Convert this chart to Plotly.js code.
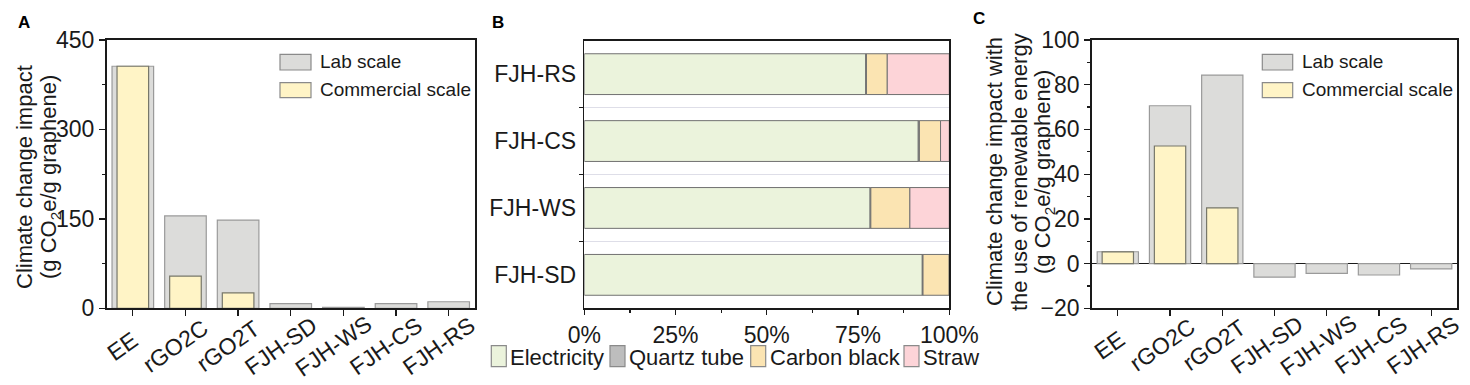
<!DOCTYPE html>
<html>
<head>
<meta charset="utf-8">
<script src="https://cdn.plot.ly/plotly-3.0.1.min.js"></script>
<style>html,body{margin:0;padding:0;background:#fff;}#chart{width:1470px;height:385px;}</style>
</head>
<body>
<div id="chart"></div>
<script>
// ---------- data ----------
const samples = ["EE", "rGO2C", "rGO2T", "FJH-SD", "FJH-WS", "FJH-CS", "FJH-RS"];
// Panel A: climate change impact (g CO2e / g graphene)
const labScaleA = [406, 155, 148, 7.8, 1.5, 7.8, 11];
const commercialScaleA = [406, 54, 26, null, null, null, null];
// Panel C: with renewable energy
const labScaleC = [5.3, 70.6, 84.3, -6.1, -4.4, -5.1, -2.4];
const commercialScaleC = [5.2, 52.6, 24.9, null, null, null, null];
// Panel B: contribution shares (%)
const fjhSamples = ["FJH-SD", "FJH-WS", "FJH-CS", "FJH-RS"];
const electricity = [92.6, 78.3, 91.5, 77.1];
const quartzTube = [0.2, 0.2, 0.3, 0.2];
const carbonBlack = [7.2, 10.7, 5.8, 5.7];
const straw = [0.0, 10.8, 2.4, 17.0];
const yTicksA = [0, 150, 300, 450];
const xTicksB = [0, 25, 50, 75, 100];
const xTickLabelsB = ["0%", "25%", "50%", "75%", "100%"];

// ---------- helpers ----------
const W = 1470, H = 385;
const px = x => x / W;
const py = y => 1 - y / H;
const FONT = "Liberation Sans, Arial, sans-serif";
const INK = "#1a1a1a";

const labColor = "#dcdcda", labLine = "#9a9a9a";
const comColor = "#fff4c6", comLine = "#77776a";
const compNames = ["Electricity", "Quartz tube", "Carbon black", "Straw"];
const compSeries = [electricity, quartzTube, carbonBlack, straw];
const compColors = ["#ebf3dc", "#bdbdbd", "#fbe4b2", "#fdd4d8"];

const traces = [];
traces.push({type: "bar", x: samples, y: labScaleA, width: 0.79, name: "Lab scale",
  marker: {color: labColor, line: {color: labLine, width: 1.2}}, xaxis: "x", yaxis: "y", showlegend: false});
traces.push({type: "bar", x: samples, y: commercialScaleA, width: 0.6, name: "Commercial scale",
  marker: {color: comColor, line: {color: comLine, width: 1.2}}, xaxis: "x", yaxis: "y", showlegend: false});

const yIdx = fjhSamples.map((c, i) => i);
let cum = fjhSamples.map(() => 0);
compSeries.forEach((s, k) => {
  traces.push({type: "bar", orientation: "h", y: yIdx, x: s, base: cum.slice(), width: 0.61,
    name: compNames[k], marker: {color: compColors[k], line: {color: "#707070", width: 1}},
    xaxis: "x2", yaxis: "y2", showlegend: false});
  cum = cum.map((v, i) => v + s[i]);
});

traces.push({type: "bar", x: samples, y: labScaleC, width: 0.79, name: "Lab scale",
  marker: {color: labColor, line: {color: labLine, width: 1.2}}, xaxis: "x3", yaxis: "y3", showlegend: false});
traces.push({type: "bar", x: samples, y: commercialScaleC, width: 0.6, name: "Commercial scale",
  marker: {color: comColor, line: {color: comLine, width: 1.2}}, xaxis: "x3", yaxis: "y3", showlegend: false});

const tickFont = {family: FONT, size: 23, color: INK};
const baseAxis = {showline: true, linecolor: INK, linewidth: 1.6, mirror: true, showgrid: false,
  zeroline: false, ticks: "outside", ticklen: 6, tickwidth: 1.3, tickcolor: INK, tickfont: tickFont, fixedrange: true};

const catRange = [-0.5, samples.length - 0.5];
const yDom = [py(308.3), py(40)];
const layout = {
  width: W, height: H, margin: {l: 0, r: 0, t: 0, b: 0},
  paper_bgcolor: "#fff", plot_bgcolor: "#fff", barmode: "overlay", bargap: 0,
  font: {family: FONT, color: INK},
  xaxis: Object.assign({}, baseAxis, {domain: [px(106.5), px(475)], anchor: "y", type: "category",
    categoryarray: samples, range: catRange, autorange: false, showticklabels: false}),
  yaxis: Object.assign({}, baseAxis, {domain: yDom, anchor: "x", range: [0, 450], tickvals: yTicksA,
    minor: {dtick: 75, tick0: 0, ticks: "outside", ticklen: 3, tickcolor: INK}}),
  xaxis2: Object.assign({}, baseAxis, {domain: [px(584.3), px(949.3)], anchor: "y2", range: [0, 100],
    tickmode: "array", tickvals: xTicksB, ticktext: xTickLabelsB, ticklen: 5,
    minor: {dtick: 12.5, tick0: 0, ticks: "outside", ticklen: 3, tickcolor: INK}}),
  yaxis2: Object.assign({}, baseAxis, {domain: [py(308.3), py(40.7)], anchor: "x2", range: [-0.5, 3.5],
    tickmode: "array", tickvals: yIdx, ticktext: fjhSamples, ticks: "", ticklabelstandoff: 2,
    minor: {tickvals: [0.5, 1.5, 2.5], ticks: "outside", ticklen: 4, tickcolor: INK,
      showgrid: true, gridcolor: "#dedee8", gridwidth: 1}}),
  xaxis3: Object.assign({}, baseAxis, {domain: [px(1091.7), px(1457.3)], anchor: "y3", type: "category",
    categoryarray: samples, range: catRange, autorange: false, showticklabels: false}),
  yaxis3: Object.assign({}, baseAxis, {domain: yDom, anchor: "x3", range: [-20, 100], dtick: 20, tick0: 0,
    zeroline: true, zerolinecolor: INK, zerolinewidth: 1.6,
    minor: {dtick: 10, tick0: 0, ticks: "outside", ticklen: 3, tickcolor: INK}}),
  shapes: [],
  annotations: []
};

function ann(text, x, y, opts) {
  layout.annotations.push(Object.assign({text: text, x: px(x), y: py(y), xref: "paper", yref: "paper",
    showarrow: false, font: {family: FONT, size: 22, color: INK}, xanchor: "center", yanchor: "middle"}, opts || {}));
}
function box(x0, x1, y0, y1, fill, line) {
  layout.shapes.push({type: "rect", xref: "paper", yref: "paper", x0: px(x0), x1: px(x1), y0: py(y1), y1: py(y0),
    fillcolor: fill, line: {color: line, width: 1.2}});
}

// rotated category labels (centred below each tick, as in the original)
function catLabels(xref, yCenter, shift) {
  samples.forEach(s => {
    layout.annotations.push({text: s, x: s, xref: xref, y: py(yCenter), yref: "paper", showarrow: false,
      textangle: -35, xanchor: "center", yanchor: "middle", xshift: shift,
      font: {family: FONT, size: 23, color: INK}});
  });
}
catLabels("x", 346, -10);
catLabels("x3", 345, -8);

// panel letters
ann("<b>A</b>", 24, 22, {font: {family: FONT, size: 17, color: "#000"}});
ann("<b>B</b>", 498, 22, {font: {family: FONT, size: 17, color: "#000"}});
ann("<b>C</b>", 979, 18, {font: {family: FONT, size: 17, color: "#000"}});

// axis titles (rotated)
ann("Climate change impact", 24, 177, {textangle: -90});
ann("(g CO<sub>2</sub>e/g graphene)", 50, 177, {textangle: -90});
ann("Climate change impact with", 995, 172, {textangle: -90});
ann("the use of renewable energy", 1020, 172, {textangle: -90});
ann("(g CO<sub>2</sub>e/g graphene)", 1044, 172, {textangle: -90});

// legend A
box(280, 311, 54.3, 70, labColor, "#8a8a8a");
box(280, 311, 82.7, 97.7, comColor, "#8a8a8a");
ann("Lab scale", 317.7, 61.5, {xanchor: "left", font: {family: FONT, size: 19, color: INK}});
ann("Commercial scale", 317.7, 89.5, {xanchor: "left", font: {family: FONT, size: 19, color: INK}});
// legend C
box(1262.3, 1292.7, 54.3, 70, labColor, "#8a8a8a");
box(1262.3, 1292.7, 82.7, 97.7, comColor, "#8a8a8a");
ann("Lab scale", 1300, 61.5, {xanchor: "left", font: {family: FONT, size: 19, color: INK}});
ann("Commercial scale", 1300, 89.5, {xanchor: "left", font: {family: FONT, size: 19, color: INK}});
// legend B
const legB = [[491.3, 508], [610, 627], [750.7, 767.5], [904, 921]];
legB.forEach((p, k) => {
  box(p[0], p[0] + 15, 345.7, 366.7, compColors[k], "#8a8a8a");
  ann(compNames[k], p[1], 357, {xanchor: "left", font: {family: FONT, size: 22, color: INK}});
});

Plotly.newPlot("chart", traces, layout, {displayModeBar: false, staticPlot: true});
</script>
</body>
</html>
